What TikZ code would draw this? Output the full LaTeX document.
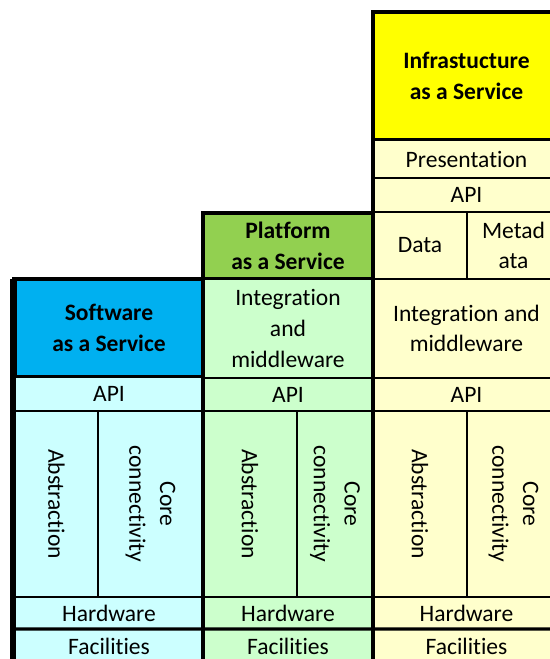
\documentclass[tikz,border=0pt]{standalone}
\usepackage{fontspec}
\setmainfont{Carlito}[Ligatures={NoCommon}]
\usetikzlibrary{positioning}

\definecolor{iaasHead}{HTML}{FFFF00}
\definecolor{iaasBody}{HTML}{FFFFCC}
\definecolor{paasHead}{HTML}{92D050}
\definecolor{paasBody}{HTML}{CCFFCC}
\definecolor{saasHead}{HTML}{00B0F0}
\definecolor{saasBody}{HTML}{CCFFFF}

\begin{document}
\begin{tikzpicture}[
			node distance=0pt,
			every node/.style={
					draw,
					line width=0.8pt,
					align=center,
					inner sep=0pt,
					outer sep=0pt,
					font=\fontsize{13.4}{17.5}\selectfont
				},
			head/.style={line width=1.8pt, font=\fontsize{13.4}{17.5}\selectfont\bfseries},
			icol/.style={fill=iaasBody, minimum width=3.74cm},
			pcol/.style={fill=paasBody, minimum width=3.4cm},
			scol/.style={fill=saasBody, minimum width=3.74cm},
			upright/.style={rotate=-90},
			frame/.style={line width=1.8pt}
		]

		\useasboundingbox (0,0) rectangle (11,-13.18);
		\clip (0,0) rectangle (11,-13.18);

		% Infrastructure column
		\node (iaas) [head, icol, fill=iaasHead, minimum height=2.56cm,
			anchor=north west] at (7.46,-0.24)
		{Infrastucture\\as a Service};
		\node (ipres) [icol, minimum height=0.76cm, below=of iaas] {Presentation};
		\node (iapi) [icol, minimum height=0.68cm, below=of ipres] {API};
		\node (idata) [icol, minimum width=1.88cm, minimum height=1.34cm,
			anchor=north west] at (iapi.south west) {Data};
		\node (imeta) [icol, minimum width=1.86cm, minimum height=1.34cm,
			right=of idata] {Metad\\ata};
		\node (iint) [icol, minimum height=1.98cm, anchor=north west]
			at (idata.south west) {Integration and\\middleware};
		\node (iapi2) [icol, minimum height=0.66cm, below=of iint] {API};
		\node (iabs) [icol, minimum width=1.88cm, minimum height=3.72cm,
			anchor=north west] at (iapi2.south west) {};
		\node (icore) [icol, minimum width=1.86cm, minimum height=3.72cm,
			right=of iabs] {};
		\node (ihw) [icol, minimum height=0.64cm, anchor=north west]
			at (iabs.south west) {Hardware};
		\node (ifac) [icol, minimum height=0.68cm, below=of ihw] {Facilities};

		% Platform column
		\node (paas) [head, pcol, fill=paasHead, minimum height=1.32cm,
			anchor=north west] at (4.06,-4.26)
		{Platform\\as a Service};
		\node (pint) [pcol, minimum height=1.98cm, below=of paas]
		{Integration\\and\\middleware};
		\node (papi) [pcol, minimum height=0.66cm, below=of pint] {API};
		\node (pabs) [pcol, minimum width=1.88cm, minimum height=3.72cm,
			anchor=north west] at (papi.south west) {};
		\node (pcore) [pcol, minimum width=1.52cm, minimum height=3.72cm,
			right=of pabs] {};
		\node (phw) [pcol, minimum height=0.64cm, anchor=north west]
			at (pabs.south west) {Hardware};
		\node (pfac) [pcol, minimum height=0.68cm, below=of phw] {Facilities};

		% Software column
		\node (saas) [head, scol, fill=saasHead, minimum width=3.76cm,
			minimum height=1.96cm, anchor=north west] at (0.30,-5.58)
		{Software\\as a Service};
		\node (sapi) [scol, minimum width=3.76cm, minimum height=0.68cm,
			below=of saas] {API};
		\node (sabs) [scol, minimum width=1.66cm, minimum height=3.72cm,
			anchor=north west] at (sapi.south west) {};
		\node (score) [scol, minimum width=2.10cm, minimum height=3.72cm,
			right=of sabs] {};
		\node (shw) [scol, minimum width=3.76cm, minimum height=0.64cm,
			anchor=north west] at (sabs.south west) {Hardware};
		\node (sfac) [scol, minimum width=3.76cm, minimum height=0.68cm,
			below=of shw] {Facilities};

		% rotated labels
		\foreach \col in {i,p,s} {
				\node[draw=none, upright] at (\col abs) {Abstraction};
				\node[draw=none, upright] at (\col core) {Core\\connectivity};
			}

		% heavy rules
		\draw[frame] (iaas.north west) -- (ifac.south west);
		\draw[frame] (paas.north west) -- (pfac.south west);
		\draw[frame] ([xshift=-0.06cm]saas.north west) -- ([xshift=-0.06cm]sfac.south west);
		\draw[frame] ([xshift=-0.06cm]saas.north west) -- (saas.north east);
		\draw[frame] (sfac.north west) -- (ifac.north east);

	\end{tikzpicture}
\end{document}
